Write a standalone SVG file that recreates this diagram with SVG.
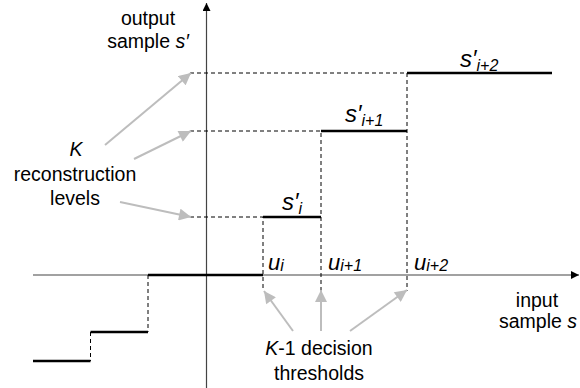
<svg xmlns="http://www.w3.org/2000/svg" width="580" height="388" viewBox="0 0 580 388">
<style>
text{font-family:"Liberation Sans",Arial,sans-serif;fill:#000}
.t{font-size:19.5px;text-anchor:middle}
.it{font-style:italic}
.lab{font-size:24px;font-style:italic}
.ul{font-size:22px;font-style:italic}
.sub{font-size:16px;font-style:italic}
.axis{stroke:#444;stroke-width:1.2;fill:none}
.lvl{stroke:#000;stroke-width:2.6;fill:none}
.dash{stroke:#000;stroke-width:1;stroke-dasharray:4 3;fill:none}
.ga{stroke:#bdbdbd;stroke-width:2;fill:none;marker-end:url(#ga)}
</style>
<defs>
<marker id="ax" viewBox="0 0 10 10" refX="10" refY="5" markerWidth="10" markerHeight="8" markerUnits="userSpaceOnUse" orient="auto"><path d="M0,0L10,5L0,10z" fill="#000"/></marker>
<marker id="ga" viewBox="0 0 12 12" refX="12" refY="6" markerWidth="13" markerHeight="12" markerUnits="userSpaceOnUse" orient="auto"><path d="M0,0L12,6L0,12z" fill="#bdbdbd"/></marker>
</defs>
<g id="axes">
<line class="axis" x1="206.5" y1="388" x2="206.5" y2="3" marker-end="url(#ax)"/>
<line class="axis" x1="33" y1="275" x2="579" y2="275" marker-end="url(#ax)"/>
</g>
<g id="connectors">
<path class="dash" d="M190,217H263V291M190,131H321V291M190,73H407V291M148,275V332M90.5,332V361"/>
<path class="lvl" d="M33,361H90.5M90.5,332H148M148,275H263M263,217H321M321,131H407M407,73H552"/>
<line class="ga" x1="105" y1="145" x2="191" y2="73"/>
<line class="ga" x1="134" y1="159" x2="191" y2="131"/>
<line class="ga" x1="120" y1="202" x2="191" y2="217"/>
<line class="ga" x1="293" y1="331" x2="264" y2="291"/>
<line class="ga" x1="321" y1="331" x2="321" y2="290"/>
<line class="ga" x1="350" y1="331" x2="407" y2="290"/>
</g>
<g id="ylabel">
<text class="t" x="148" y="25">output</text>
<text class="t" x="148" y="48">sample <tspan class="it">s′</tspan></text>
</g>
<g id="xlabel">
<text class="t" x="537" y="307">input</text>
<text class="t" x="538" y="328">sample <tspan class="it">s</tspan></text>
</g>
<g id="levels-label">
<text class="t it" x="76" y="156">K</text>
<text class="t" x="75" y="181">reconstruction</text>
<text class="t" x="75" y="205">levels</text>
</g>
<g id="thresholds-label">
<text class="t" x="319" y="355"><tspan class="it">K</tspan>-1 decision</text>
<text class="t" x="319" y="380">thresholds</text>
</g>
<g id="s-labels">
<text x="282" y="210"><tspan class="lab">s′</tspan><tspan class="sub" dy="4">i</tspan></text>
<text x="345" y="122"><tspan class="lab">s′</tspan><tspan class="sub" dy="4">i+1</tspan></text>
<text x="460" y="67"><tspan class="lab">s′</tspan><tspan class="sub" dy="4">i+2</tspan></text>
</g>
<g id="u-labels">
<text x="268" y="270"><tspan class="ul">u</tspan><tspan class="sub" dy="1">i</tspan></text>
<text x="328" y="270"><tspan class="ul">u</tspan><tspan class="sub" dy="1">i+1</tspan></text>
<text x="414" y="270"><tspan class="ul">u</tspan><tspan class="sub" dy="1">i+2</tspan></text>
</g>
</svg>
